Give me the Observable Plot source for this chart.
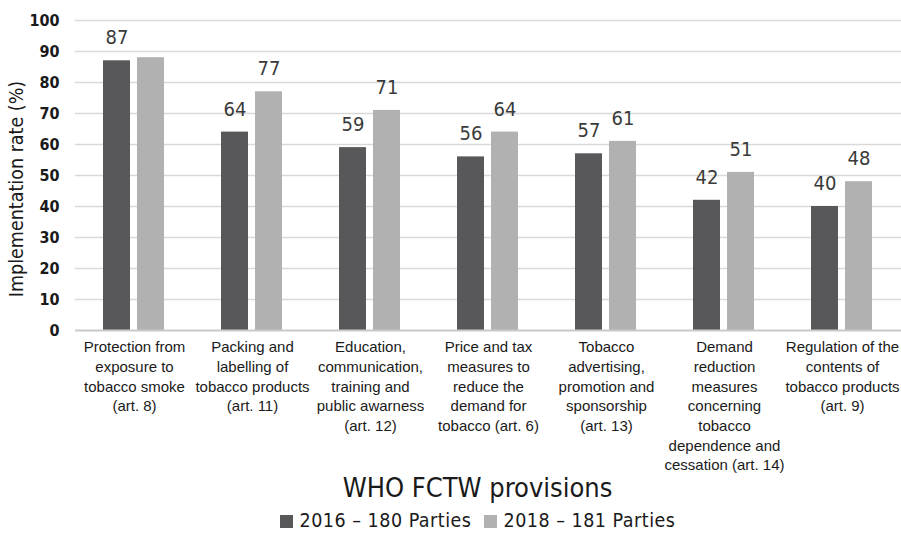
<!DOCTYPE html>
<html>
<head>
<meta charset="utf-8">
<script src="https://cdn.jsdelivr.net/npm/d3@7"></script>
<script src="https://cdn.jsdelivr.net/npm/@observablehq/plot@0.6"></script>
<style>
  html, body { margin: 0; padding: 0; background: #fff; }
  #wrap { position: relative; width: 901px; height: 533px; overflow: hidden; font-family: "DejaVu Sans Condensed", "DejaVu Sans", sans-serif; }
  #chart svg { display: block; }
  #ytitle { position: absolute; left: -133px; top: 177px; width: 300px; height: 24px; line-height: 24px; text-align: center; transform: rotate(-90deg); transform-origin: 50% 50%; white-space: nowrap; font-size: 19.5px; color: #1a1a1a; }
  #title { position: relative; margin-top: -10px; height: 36px; line-height: 36px; text-align: center; font-size: 27px; color: #1a1a1a; padding-left: 54px; }
  #legend { height: 30px; line-height: 30px; text-align: center; font-size: 19.5px; color: #1a1a1a; padding-left: 54px; letter-spacing: 0.5px; }
  .sw { display: inline-block; width: 13px; height: 13px; margin-right: 7px; vertical-align: -1px; }
  .item { margin: 0 6px; }
</style>
</head>
<body>
<div id="wrap">
  <div id="chart"></div>
  <div id="ytitle"></div>
  <div id="title"></div>
  <div id="legend"></div>
</div>
<script>
const categories = ["art8", "art11", "art12", "art6", "art13", "art14", "art9"];
const categoryLabels = [
  "Protection from\nexposure to\ntobacco smoke\n(art. 8)",
  "Packing and\nlabelling of\ntobacco products\n(art. 11)",
  "Education,\ncommunication,\ntraining and\npublic awarness\n(art. 12)",
  "Price and tax\nmeasures to\nreduce the\ndemand for\ntobacco (art. 6)",
  "Tobacco\nadvertising,\npromotion and\nsponsorship\n(art. 13)",
  "Demand\nreduction\nmeasures\nconcerning\ntobacco\ndependence and\ncessation (art. 14)",
  "Regulation of the\ncontents of\ntobacco products\n(art. 9)"
];
const years = ["2016", "2018"];
const seriesNames = ["2016 \u2013 180 Parties", "2018 \u2013 181 Parties"];
const values2016 = [87, 64, 59, 56, 57, 42, 40];
const values2018 = [88, 77, 71, 64, 61, 51, 48];
const labels2016 = [87, 64, 59, 56, 57, 42, 40];
const labels2018 = [null, 77, 71, 64, 61, 51, 48];
const yTicks = [0, 10, 20, 30, 40, 50, 60, 70, 80, 90, 100];
const yTitle = "Implementation rate (%)";
const xTitle = "WHO FCTW provisions";
const colors = ["#58585a", "#b1b1b1"];

const data = categories.flatMap((c, i) => [
  {cat: c, year: years[0], value: values2016[i], label: labels2016[i]},
  {cat: c, year: years[1], value: values2018[i], label: labels2018[i]}
]);
const labelOf = new Map(categories.map((c, i) => [c, categoryLabels[i]]));

const chart = Plot.plot({
  width: 901,
  height: 480,
  marginLeft: 74,
  marginRight: 0,
  marginTop: 20,
  marginBottom: 150,
  style: {fontFamily: "'DejaVu Sans Condensed', 'DejaVu Sans', sans-serif", color: "#1a1a1a"},
  fx: {domain: categories, padding: 0, label: null},
  x: {domain: years, paddingInner: 0.2, paddingOuter: 0.79, axis: null},
  y: {domain: [0, 100]},
  color: {domain: years, range: colors},
  marks: [
    Plot.gridY(yTicks.filter(t => t > 0), {stroke: "#d9d9d9", strokeOpacity: 1, strokeWidth: 1.6}),
    Plot.barY(data, {fx: "cat", x: "year", y: "value", fill: "year"}),
    Plot.ruleY([0], {stroke: "#c9c9c9", strokeWidth: 2}),
    Plot.text(data.filter(d => d.label != null), {
      fx: "cat", x: "year", y: "value", text: d => String(d.label),
      dy: -23, fontSize: 20, fill: "#3a3a3a"
    }),
    Plot.axisY({
      ticks: yTicks, tickSize: 0, tickPadding: 16, fontSize: 16, fontWeight: "bold", label: null
    }),
    Plot.axisFx({
      anchor: "bottom", tickSize: 0, tickPadding: 8, fontSize: 15, lineHeight: 1.31,
      fontFamily: "'Liberation Sans', Arial, sans-serif", fill: "#1a1a1a",
      tickFormat: c => labelOf.get(c), label: null
    })
  ]
});
document.getElementById("chart").appendChild(chart);
document.getElementById("ytitle").textContent = yTitle;
document.getElementById("title").textContent = xTitle;

const legend = document.getElementById("legend");
years.forEach((y, i) => {
  const span = document.createElement("span");
  span.className = "item";
  const sw = document.createElement("span");
  sw.className = "sw";
  sw.style.background = colors[i];
  span.appendChild(sw);
  span.appendChild(document.createTextNode(seriesNames[i]));
  legend.appendChild(span);
});
</script>
</body>
</html>
